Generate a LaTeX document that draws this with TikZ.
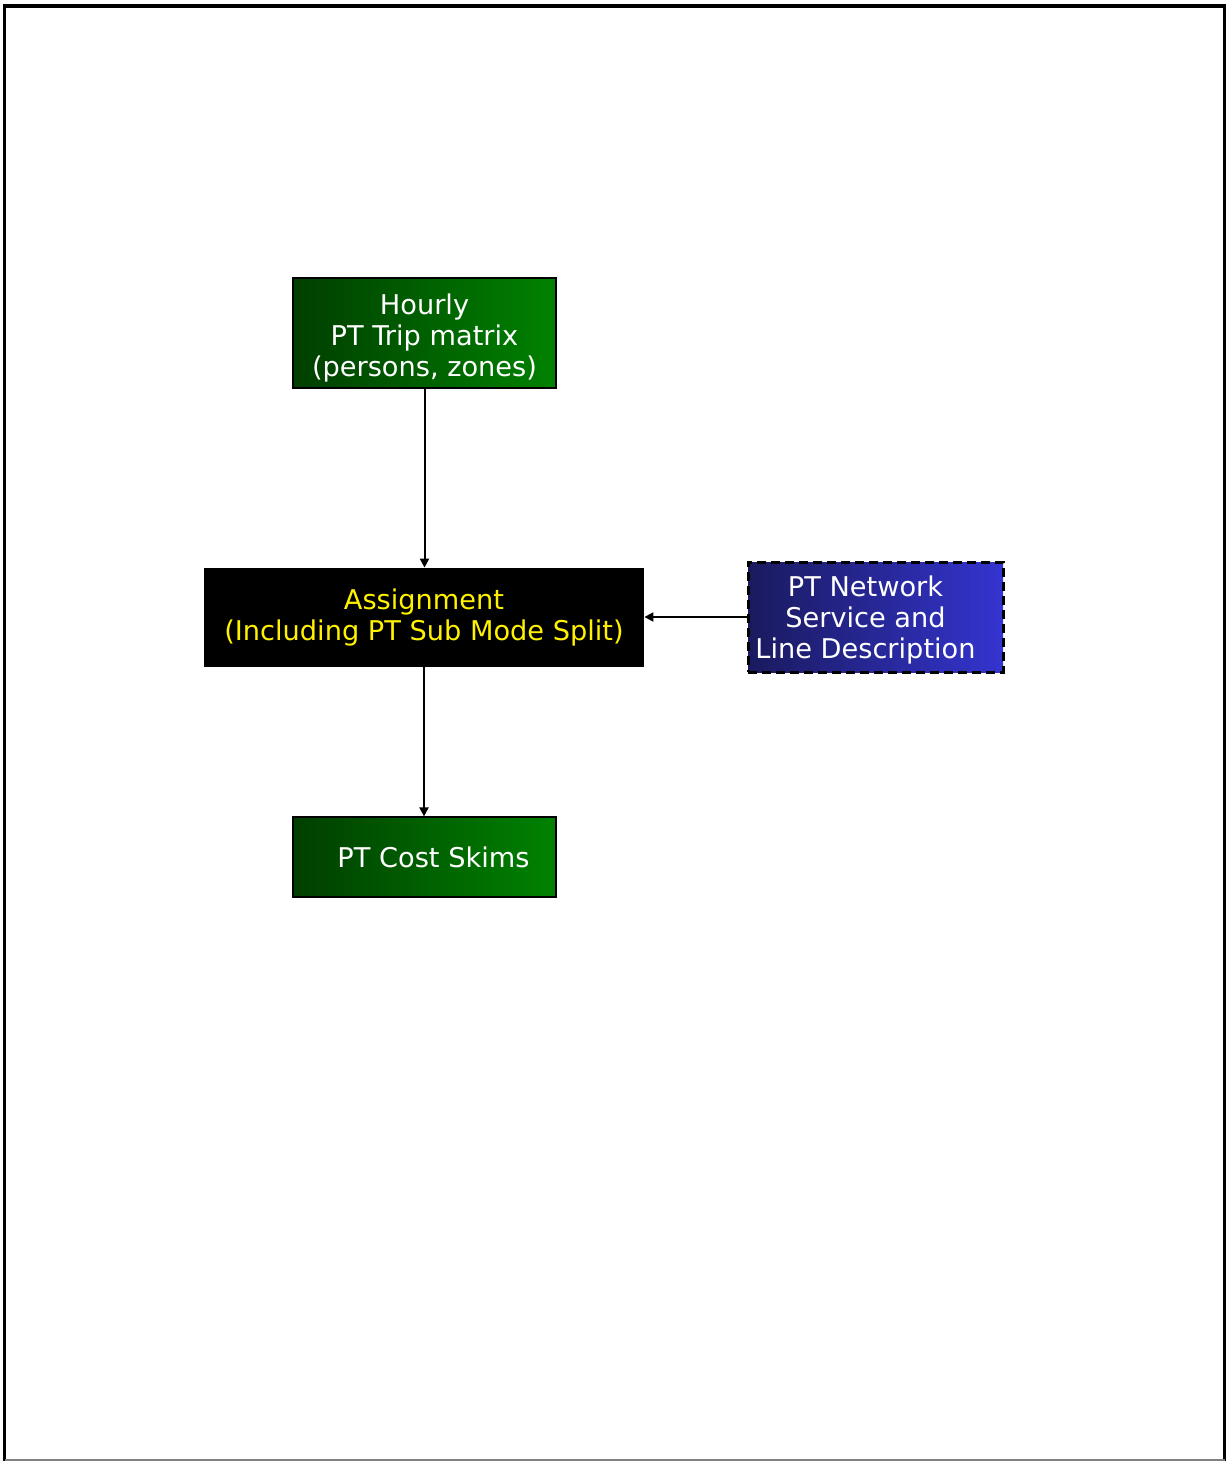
\documentclass[tikz,border=0pt]{standalone}
\usepackage{fontspec}
\setmainfont{DejaVu Sans}
\usetikzlibrary{calc, arrows.meta, positioning}

\definecolor{greenL}{RGB}{0,62,0}
\definecolor{greenR}{RGB}{0,130,0}
\definecolor{navyL}{RGB}{26,26,94}
\definecolor{navyR}{RGB}{52,52,208}

\tikzset{
    greenbox/.style={draw=black, line width=0.6pt, left color=greenL, right color=greenR,
        text=white, align=center, inner sep=0pt},
    blackbox/.style={fill=black, text=yellow, align=center, inner sep=0pt},
    netbox/.style={draw=black, line width=1.5pt, dash pattern=on 4.5pt off 2.5pt,
        left color=navyL, right color=navyR, inner sep=0pt},
    boxtext/.style={text=white, align=center, inner sep=0pt},
    flow/.style={-{Triangle[length=4.5pt,width=4.5pt]}, line width=1pt}
}

\begin{document}
\begin{tikzpicture}[x=0.5pt, y=-0.5pt, font=\fontsize{13.6}{15.5}\selectfont]
        \useasboundingbox (0,0) rectangle (1228,1461);

        % frame
        \draw[line width=1.6pt] (4.5,1461) -- (4.5,6) -- (1224.5,6) -- (1224.5,1461);
        \draw[gray, line width=1pt] (4.5,1460) -- (1224.5,1460);

        % boxes
        \node[greenbox, minimum width=131.5pt, minimum height=55pt] (trips) at (424.5,333) {};
        \node[boxtext, yshift=-2.5pt] (tripstxt) at (trips) {Hourly\\PT Trip matrix\\(persons, zones)};
        \node[blackbox, minimum width=220pt, minimum height=49.5pt] (assign) at (424,617.5)
            {Assignment\\(Including PT Sub Mode Split)};
        \node[netbox, minimum width=127.5pt, minimum height=55pt] (net) at (875.5,617) {};
        \node[boxtext, xshift=-5pt, yshift=-1.5pt] (nettxt) at (net) {PT Network\\Service and\\Line Description};
        \node[greenbox, minimum width=131.5pt, minimum height=40pt] (skims) at (424.5,857)
            {\hspace*{9pt}PT Cost Skims};

        % connectors
        \draw[flow] (trips.south) -- (trips.south |- assign.north);
        \draw[flow] (net.west) -- (assign.east |- net.west);
        \draw[flow] (assign.south) -- (assign.south |- skims.north);

    \end{tikzpicture}
\end{document}
